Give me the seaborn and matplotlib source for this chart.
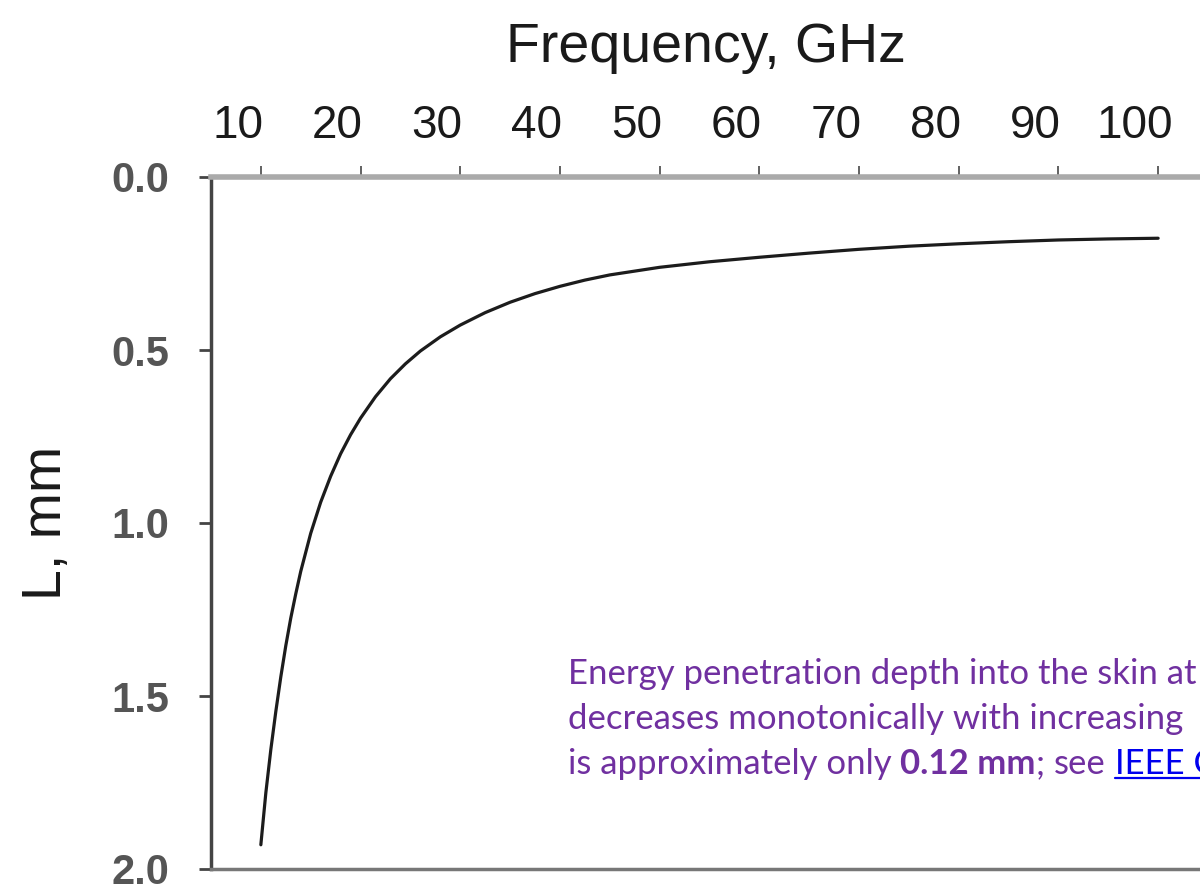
import matplotlib
matplotlib.use("Agg")
import matplotlib.pyplot as plt
import seaborn as sns
from matplotlib.transforms import IdentityTransform, ScaledTranslation
from matplotlib.lines import Line2D

# values
freq_ghz = [10, 10.5, 11, 11.5, 12, 12.5, 13, 13.5, 14, 15, 16, 17, 18, 19, 20, 21.5, 23, 24.5,
            26, 28, 30, 32.5, 35, 37.5, 40, 42.5, 45, 50, 55, 60, 65, 70, 75, 80, 85, 90, 95, 100]
depth_mm = [1.93, 1.78, 1.655, 1.545, 1.445, 1.355, 1.275, 1.205, 1.14, 1.03, 0.94, 0.865,
            0.80, 0.745, 0.697, 0.635, 0.583, 0.540, 0.503, 0.462, 0.428, 0.392, 0.362, 0.337,
            0.316, 0.298, 0.283, 0.261, 0.245, 0.232, 0.220, 0.209, 0.200, 0.193, 0.187,
            0.182, 0.179, 0.177]
x_ticks = [10, 20, 30, 40, 50, 60, 70, 80, 90, 100]
y_ticks = [0.0, 0.5, 1.0, 1.5, 2.0]

note_lines = ["Energy penetration depth into the skin at",
              "decreases monotonically with increasing"]
# (text, kind, space before)
note_last = [("is approximately only", "normal", False),
             ("0.12 mm", "bold", True),
             (";", "normal", False),
             ("see", "normal", True),
             ("IEEE C", "link", True)]

sns.set_theme(style="ticks")
plt.rcParams['font.family'] = ['Liberation Sans', 'DejaVu Sans']

W, H = 1200, 889
fig = plt.figure(figsize=(W / 100, H / 100), dpi=100)
fig.patch.set_facecolor("white")
ax = fig.add_axes([211 / W, 1 - 869 / H, 1 - 211 / W, (869 - 177) / H])

sns.lineplot(x=freq_ghz, y=depth_mm, ax=ax, color="#1c1c1c", linewidth=2.3)

ax.set_xlim(5, 104.2)
ax.set_ylim(2.0, 0.0)
ax.xaxis.tick_top()
ax.xaxis.set_label_position('top')
ax.set_xticks(x_ticks)
ax.set_yticks(y_ticks)
ax.set_yticklabels([f"{v:.1f}" for v in y_ticks], fontweight='bold', color='#555555')

ax.tick_params(axis='x', direction='out', length=8, width=1.3, color='#555555',
               labelsize=33, labelcolor='#1a1a1a', pad=13)
ax.tick_params(axis='y', direction='out', length=9, width=2, color='#444444',
               labelsize=30, pad=21)

# the source's frequency labels sit a little left of their ticks
shift = ScaledTranslation(-23 / 100, 0, fig.dpi_scale_trans)
for tk in ax.xaxis.get_major_ticks():
    tk.label2.set_transform(tk.label2.get_transform() + shift)

ax.spines['right'].set_visible(False)
ax.spines['top'].set_color('#aaaaaa')
ax.spines['top'].set_linewidth(4)
ax.spines['bottom'].set_color('#777777')
ax.spines['bottom'].set_linewidth(2.5)
ax.spines['left'].set_color('#444444')
ax.spines['left'].set_linewidth(2.5)

ax.set_xlabel("Frequency, GHz", fontsize=40, color='#1a1a1a', labelpad=30)
ax.set_ylabel("L, mm", fontsize=40, color='#1a1a1a')
ax.yaxis.set_label_coords(-0.14, 0.5)

# purple note, in pixel coordinates (cut off at the right edge like the source)
purple = '#7030A0'
note_font = ['Lato', 'DejaVu Sans']
fs = 25
x0 = 568
baselines = [H - 684, H - 729, H - 774]
for line, yb in zip(note_lines, baselines[:2]):
    fig.text(x0, yb, line, transform=IdentityTransform(), fontsize=fs, color=purple,
             family=note_font, va='baseline', ha='left')

fig.canvas.draw()
renderer = fig.canvas.get_renderer()

probe_a = fig.text(0, 0, "aa", fontsize=fs, family=note_font, transform=IdentityTransform())
probe_b = fig.text(0, 0, "a a", fontsize=fs, family=note_font, transform=IdentityTransform())
space_w = (probe_b.get_window_extent(renderer).width
           - probe_a.get_window_extent(renderer).width)
probe_a.remove()
probe_b.remove()

x = x0
for text, kind, space in note_last:
    if space:
        x += space_w
    t = fig.text(x, baselines[2], text, transform=IdentityTransform(), fontsize=fs,
                 family=note_font, va='baseline', ha='left',
                 color='#0000EE' if kind == 'link' else purple,
                 fontweight='bold' if kind == 'bold' else 'normal')
    bb = t.get_window_extent(renderer)
    if kind == 'link':
        fig.add_artist(Line2D([bb.x0, bb.x1 + 20], [baselines[2] - 4] * 2,
                              transform=IdentityTransform(), color='#0000EE', lw=1.6))
    x = bb.x1

fig.savefig("out.png", dpi=100, facecolor="white")
